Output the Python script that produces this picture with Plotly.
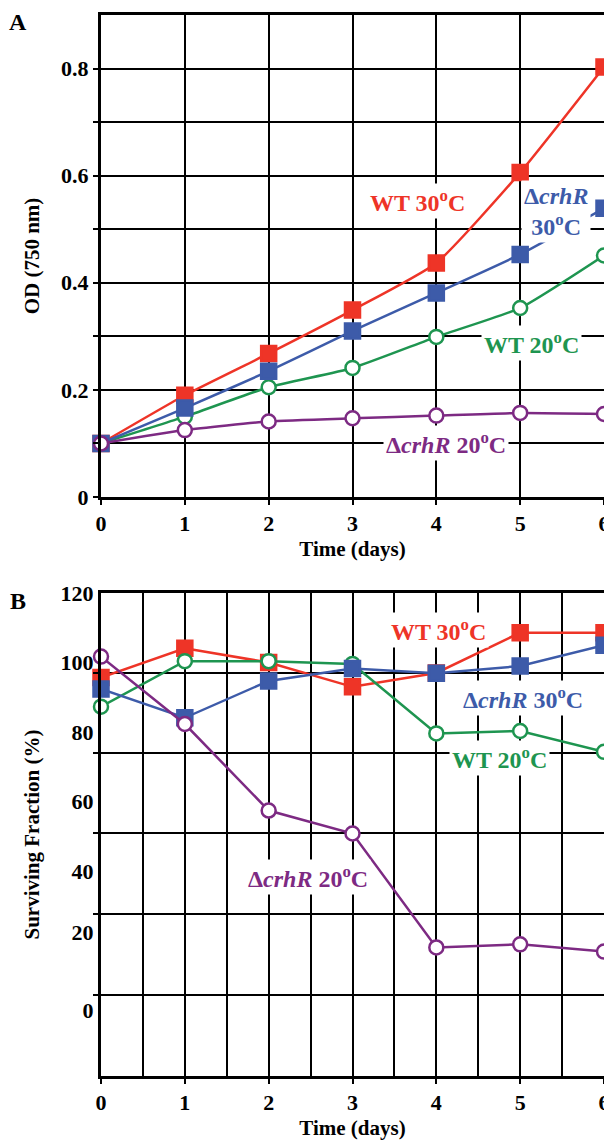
import plotly.graph_objects as go

# ---------------- data ----------------
days = [0, 1, 2, 3, 4, 5, 6]

# Panel A: OD (750 nm)
wt30_od = [0.100, 0.190, 0.268, 0.349, 0.437, 0.606, 0.803]
crhR30_od = [0.100, 0.166, 0.235, 0.310, 0.381, 0.453, 0.539]
wt20_od = [0.100, 0.150, 0.205, 0.241, 0.299, 0.353, 0.451]
crhR20_od = [0.100, 0.125, 0.141, 0.147, 0.152, 0.157, 0.155]

# Panel B: Surviving fraction (%)
wt30_sf = [95.7, 104.1, 100.0, 93.0, 97.0, 108.6, 108.6]
crhR30_sf = [92.4, 84.1, 94.7, 98.3, 96.9, 99.0, 105.0]
wt20_sf = [87.3, 100.4, 100.4, 99.6, 79.6, 80.3, 74.3]
crhR20_sf = [101.7, 82.3, 57.4, 50.8, 18.0, 18.9, 16.8]

# tick labels
x_ticks = [0, 1, 2, 3, 4, 5, 6]
x_ticktext = ["0", "1", "2", "3", "4", "5", "6"]
a_label_pos = [0.0, 0.2, 0.4, 0.6, 0.8]
a_ticktext = ["0", "0.2", "0.4", "0.6", "0.8"]
a_minor_grid = [0.1, 0.3, 0.5, 0.7]
b_label_pos = [0, 22.4, 40, 60, 80, 100, 120]
b_ticktext = ["0", "20", "40", "60", "80", "100", "120"]
b_grid = [4.3, 27.6, 50.9, 74.0, 97.0]

# ---------------- styles ----------------
RED = "#EE3427"
BLUE = "#3D5BA9"
GREEN = "#1E9550"
PURPLE = "#7D2A83"
FONT = "Liberation Serif"

fig = go.Figure()

series = [
    ("WT 30", wt30_od, wt30_sf, RED, "square", RED),
    ("WT 20", wt20_od, wt20_sf, GREEN, "circle", "white"),
    ("crhR 30", crhR30_od, crhR30_sf, BLUE, "square", BLUE),
    ("crhR 20", crhR20_od, crhR20_sf, PURPLE, "circle", "white"),
]

for name, od, sf, col, sym, fill in series:
    msize = 15 if sym == "square" else 14
    fig.add_trace(go.Scatter(
        x=days, y=od, mode="lines+markers", name=name,
        line=dict(color=col, width=2.5, shape="spline", smoothing=0.5),
        marker=dict(symbol=sym, size=msize, color=fill,
                    line=dict(color=col, width=2.5)),
        cliponaxis=False, xaxis="x", yaxis="y", showlegend=False))
    fig.add_trace(go.Scatter(
        x=days, y=sf, mode="lines+markers", name=name,
        line=dict(color=col, width=2.5),
        marker=dict(symbol=sym, size=msize, color=fill,
                    line=dict(color=col, width=2.5)),
        cliponaxis=False, xaxis="x2", yaxis="y2", showlegend=False))

tickfont = dict(family=FONT, size=22, color="black", weight="bold")
titlefont = dict(family=FONT, size=21, color="black", weight="bold")

common_x = dict(range=[0, 6], showline=True, linewidth=3, linecolor="black",
                mirror=True, ticks="outside", ticklen=5, tickwidth=2,
                tickcolor="black", tickvals=x_ticks, ticktext=x_ticktext,
                tickfont=tickfont, zeroline=False, showgrid=True,
                gridcolor="black", gridwidth=1.5, automargin=False,
                title=dict(text="Time (days)", font=titlefont, standoff=6))

# page body has an 8 px margin, so the figure is 8 px smaller each way
fig.update_layout(
    width=604, height=1133,
    margin=dict(l=93, r=8, t=7, b=65),
    paper_bgcolor="white", plot_bgcolor="white",
    xaxis=dict(domain=[0, 1], anchor="y", **common_x),
    yaxis=dict(domain=[0.5457, 1.0], anchor="x", range=[0, 0.9],
               tickvals=a_label_pos, ticktext=a_ticktext,
               showline=True, linewidth=3, linecolor="black", mirror=True,
               ticks="outside", ticklen=5, tickwidth=2, tickcolor="black",
               tickfont=tickfont, zeroline=False, showgrid=True,
               gridcolor="black", gridwidth=1.5, automargin=False,
               minor=dict(tickvals=a_minor_grid, showgrid=True,
                          gridcolor="black", gridwidth=1.5, ticks="outside",
                          ticklen=5, tickwidth=2, tickcolor="black"),
               title=dict(text="OD (750 nm)", font=titlefont, standoff=16)),
    xaxis2=dict(domain=[0, 1], anchor="y2",
                minor=dict(dtick=0.5, tick0=0, showgrid=True,
                           gridcolor="black", gridwidth=1.5, ticks=""),
                **common_x),
    yaxis2=dict(domain=[0.0, 0.4552], anchor="x2", range=[-19.0, 120],
                tickvals=b_label_pos, ticktext=b_ticktext,
                showline=True, linewidth=3, linecolor="black", mirror=True,
                ticks="", ticklen=5, tickfont=tickfont, zeroline=False,
                showgrid=False, automargin=False,
                minor=dict(tickvals=b_grid, showgrid=True, gridcolor="black",
                           gridwidth=1.5, ticks="outside", ticklen=5,
                           tickwidth=2, tickcolor="black"),
                title=dict(text="Surviving Fraction (%)", font=titlefont,
                           standoff=16)),
)

def label(text, x, y, col, xref, yref):
    fig.add_annotation(text=text, x=x, y=y, xref=xref, yref=yref,
                       showarrow=False, bgcolor="white", borderpad=2,
                       font=dict(family=FONT, size=24, color=col,
                                 weight="bold"))

# Panel A labels
label("WT 30<sup>o</sup>C", 3.77, 0.552, RED, "x", "y")
label("Δ<i>crhR</i><br>30<sup>o</sup>C", 5.43, 0.533, BLUE, "x", "y")
label("WT 20<sup>o</sup>C", 5.14, 0.288, GREEN, "x", "y")
label("Δ<i>crhR</i> 20<sup>o</sup>C", 4.12, 0.101, PURPLE, "x", "y")
# Panel B labels
label("WT 30<sup>o</sup>C", 4.02, 109.4, RED, "x2", "y2")
label("Δ<i>crhR</i> 30<sup>o</sup>C", 5.03, 89.8, BLUE, "x2", "y2")
label("WT 20<sup>o</sup>C", 4.75, 72.5, GREEN, "x2", "y2")
label("Δ<i>crhR</i> 20<sup>o</sup>C", 2.47, 38.3, PURPLE, "x2", "y2")

# panel letters
for letter, py in [("A", 22), ("B", 601)]:
    fig.add_annotation(text=letter, xref="paper", yref="paper",
                       x=(18 - 101) / 503, y=(1076 - py) / 1061,
                       xanchor="center", yanchor="middle", showarrow=False,
                       font=dict(family=FONT, size=24, color="black",
                                 weight="bold"))

fig.write_html("out.html")
